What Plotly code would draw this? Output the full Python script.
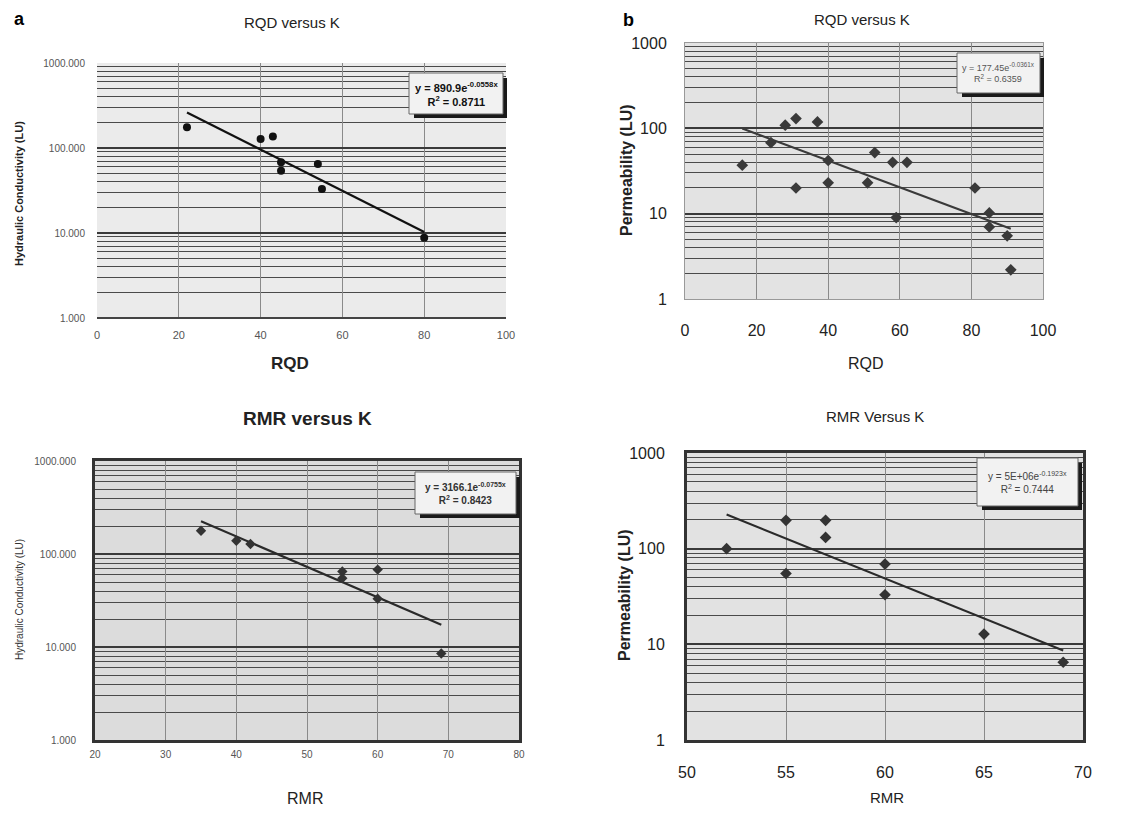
import numpy as np
import plotly.graph_objects as go

# page is 1147x816; the html body adds an 8px margin, so the figure is drawn 8px in
OFF = 8
W, H = 1147 - OFF, 816 - OFF

# ---------------- data ----------------
a_rqd = [22, 40, 43, 45, 45, 54, 55, 80]
a_k = [175, 128, 137, 68, 54, 65, 33, 8.8]
a_coef, a_exp, a_r2 = 890.9, -0.0558, 0.8711

b_rqd = [16, 24, 28, 31, 31, 37, 40, 40, 51, 53, 58, 62, 59, 81, 85, 85, 90, 91]
b_k = [37, 68, 109, 130, 20, 119, 42, 23, 23, 52, 40, 40, 9, 20, 10.2, 7.0, 5.5, 2.2]
b_coef, b_exp, b_r2 = 177.45, -0.0361, 0.6359

c_rmr = [35, 40, 42, 55, 55, 60, 60, 69]
c_k = [178, 139, 128, 65, 55, 68, 33, 8.5]
c_coef, c_exp, c_r2 = 3166.1, -0.0755, 0.8423

d_rmr = [52, 55, 55, 57, 57, 60, 60, 65, 69]
d_k = [100, 198, 55, 198, 131, 69, 33, 12.8, 6.5]
d_coef, d_exp, d_r2 = 5e6, -0.1923, 0.7444

a_eq = "y = 890.9e<sup>-0.0558x</sup>"
b_eq = "y = 177.45e<sup>-0.0361x</sup>"
c_eq = "y = 3166.1e<sup>-0.0755x</sup>"
d_eq = "y = 5E+06e<sup>-0.1923x</sup>"

# log tick values
major_vals = [1, 10, 100, 1000]
minor_vals = [m * 10 ** e for e in range(0, 3) for m in range(2, 10)]
lab_dec3 = ["1.000", "10.000", "100.000", "1000.000"]
lab_dec = ["1", "10", "100", "1000"]

FONT = "Liberation Sans, Arial, sans-serif"


def px(x):
    return (x - OFF) / W


def py(y):
    return 1 - (y - OFF) / H


fig = go.Figure()

panels = [
    ("", a_rqd, a_k, a_coef, a_exp, "circle", 8, "#111111", "#111111"),
    ("2", b_rqd, b_k, b_coef, b_exp, "diamond", 9, "#3a3a3a", "#3a3a3a"),
    ("3", c_rmr, c_k, c_coef, c_exp, "diamond", 8, "#333333", "#2a2a2a"),
    ("4", d_rmr, d_k, d_coef, d_exp, "diamond", 9, "#333333", "#2a2a2a"),
]

for name, xs, ys, coef, ex, sym, ms, mc, lc in panels:
    xl = np.linspace(min(xs), max(xs), 50)
    yl = coef * np.exp(ex * xl)
    fig.add_trace(go.Scatter(x=xl, y=yl, mode="lines", line=dict(color=lc, width=2.2),
                             xaxis="x" + name, yaxis="y" + name, showlegend=False, hoverinfo="skip"))
    fig.add_trace(go.Scatter(x=xs, y=ys, mode="markers",
                             marker=dict(symbol=sym, size=ms, color=mc),
                             xaxis="x" + name, yaxis="y" + name, showlegend=False))

# domains in page pixels: (x0, x1, ytop, ybottom)
dom = {
    "": (97, 506, 63, 318),
    "2": (685, 1043, 43, 299),
    "3": (95, 519, 461, 740),
    "4": (687, 1083, 453, 740),
}
xranges = {"": (0, 100, 20), "2": (0, 100, 20), "3": (20, 80, 10), "4": (50, 70, 5)}
tickstyle = {
    "": dict(xsize=11, ysize=10, col="#555555", xlen=7, ylen=9, labels=lab_dec3, bg="#ebebeb", frame=0, framecol="#444"),
    "2": dict(xsize=16, ysize=16, col="#222222", xlen=17, ylen=14, labels=lab_dec, bg="#e3e3e3", frame=1, framecol="#999"),
    "3": dict(xsize=10, ysize=10, col="#555555", xlen=3, ylen=14, labels=lab_dec3, bg="#dcdcdc", frame=3, framecol="#333"),
    "4": dict(xsize=16, ysize=16, col="#222222", xlen=16, ylen=16, labels=lab_dec, bg="#e2e2e2", frame=3, framecol="#333"),
}

layout = dict(width=W, height=H, margin=dict(l=0, r=0, t=0, b=0),
              paper_bgcolor="white", plot_bgcolor="white", font=dict(family=FONT, color="#222"))
shapes = []
for name, (x0, x1, yt, yb) in dom.items():
    st = tickstyle[name]
    r0, r1, dt = xranges[name]
    ax = "xaxis" + name
    ay = "yaxis" + name
    layout[ax] = dict(domain=[px(x0), px(x1)], range=[r0, r1], dtick=dt, tick0=r0, automargin=False,
                      anchor="y" + name, showgrid=True, gridcolor="#8a8a8a", gridwidth=1,
                      zeroline=False, ticks="outside", ticklen=st["xlen"], tickcolor="rgba(0,0,0,0)",
                      tickfont=dict(size=st["xsize"], color=st["col"], family=FONT),
                      showline=st["frame"] > 0, linecolor=st["framecol"], linewidth=max(st["frame"], 1),
                      mirror=st["frame"] > 0)
    layout[ay] = dict(domain=[py(yb), py(yt)], type="log", range=[0, 3], anchor="x" + name, automargin=False,
                      tickvals=major_vals, ticktext=st["labels"],
                      minor=dict(tickvals=minor_vals, showgrid=True, gridcolor="#4a4a4a", gridwidth=1.3,
                                 ticks=""),
                      showgrid=True, gridcolor="#3a3a3a", gridwidth=1.6, zeroline=False,
                      ticks="outside", ticklen=st["ylen"], tickcolor="rgba(0,0,0,0)",
                      tickfont=dict(size=st["ysize"], color=st["col"], family=FONT),
                      showline=st["frame"] > 0, linecolor=st["framecol"], linewidth=max(st["frame"], 1),
                      mirror=st["frame"] > 0)
    shapes.append(dict(type="rect", xref="paper", yref="paper", x0=px(x0), x1=px(x1), y0=py(yb), y1=py(yt),
                       fillcolor=st["bg"], line=dict(width=0), layer="below"))

# bottom axis line for panel a
shapes.append(dict(type="line", xref="paper", yref="paper", x0=px(97), x1=px(506), y0=py(318), y1=py(318),
                   line=dict(color="#444", width=2)))

# equation boxes (x0, x1, ytop, ybottom) in page px
boxes = [
    (409, 503, 73, 114, a_eq, a_r2, 11, "#111", True),
    (957, 1040, 53, 93, b_eq, b_r2, 9, "#555", False),
    (415, 516, 472, 514, c_eq, c_r2, 10, "#333", True),
    (977, 1078, 458, 506, d_eq, d_r2, 10, "#444", False),
]
annotations = []
for bx0, bx1, by0, by1, eq, r2, fs, fc, bold in boxes:
    shapes.append(dict(type="rect", xref="paper", yref="paper", x0=px(bx0 + 5), x1=px(bx1 + 4),
                       y0=py(by1 + 4), y1=py(by0 + 5), fillcolor="#1a1a1a", line=dict(width=0)))
    shapes.append(dict(type="rect", xref="paper", yref="paper", x0=px(bx0), x1=px(bx1),
                       y0=py(by1), y1=py(by0), fillcolor="#f2f2f2", line=dict(color="#666", width=1)))
    b1, b2 = ("<b>", "</b>") if bold else ("", "")
    annotations.append(dict(xref="paper", yref="paper", x=px((bx0 + bx1) / 2), y=py((by0 + by1) / 2),
                            xanchor="center", yanchor="middle",
                            text=f"{b1}{eq}{b2}<br>{b1}R<sup>2</sup> = {r2:.4f}{b2}", showarrow=False,
                            font=dict(size=fs, color=fc, family=FONT), align="center"))

# titles and axis titles: (text, xpx, ypx, size, bold, angle, color)
texts = [
    ("a", 19, 19, 18, True, 0, "#000"),
    ("b", 628, 20, 18, True, 0, "#000"),
    ("RQD versus K", 292, 22, 15, False, 0, "#222"),
    ("RQD versus K", 862, 19, 15, False, 0, "#222"),
    ("RMR versus K", 307, 418, 19, True, 0, "#222"),
    ("RMR Versus K", 875, 416, 15, False, 0, "#222"),
    ("RQD", 290, 364, 17, True, 0, "#222"),
    ("RQD", 866, 363, 16, False, 0, "#222"),
    ("RMR", 305, 798, 16, False, 0, "#222"),
    ("RMR", 887, 797, 15, False, 0, "#222"),
    ("Hydraulic Conductivity (LU)", 19, 194, 11, True, -90, "#222"),
    ("Permeability (LU)", 627, 170, 16, True, -90, "#222"),
    ("Hydraulic Conductivity (LU)", 19, 600, 10, False, -90, "#333"),
    ("Permeability (LU)", 624, 595, 16, True, -90, "#222"),
]
for t, x, y, s, bold, ang, col in texts:
    annotations.append(dict(xref="paper", yref="paper", x=px(x), y=py(y), xanchor="center", yanchor="middle",
                            text=f"<b>{t}</b>" if bold else t, showarrow=False, textangle=ang,
                            font=dict(size=s, color=col, family=FONT)))

layout["shapes"] = shapes
layout["annotations"] = annotations
fig.update_layout(**layout)
fig.write_html("out.html")
